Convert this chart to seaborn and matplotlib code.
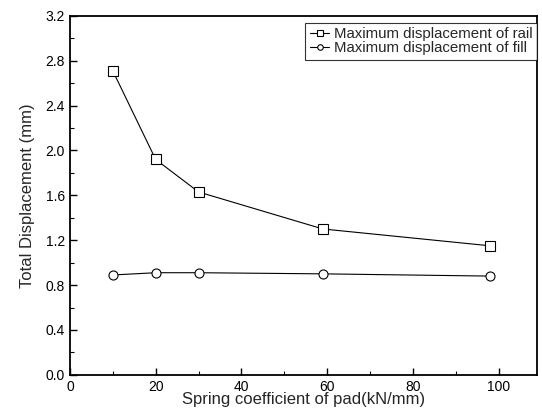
import numpy as np
import pandas as pd
import matplotlib
matplotlib.use("Agg")
import matplotlib.pyplot as plt
import seaborn as sns
from matplotlib.ticker import MultipleLocator

spring = [10, 20, 30, 59, 98]
rail = [2.71, 1.92, 1.63, 1.30, 1.15]
fill = [0.89, 0.91, 0.91, 0.90, 0.88]
series_names = ["Maximum displacement of rail", "Maximum displacement of fill"]

df = pd.DataFrame({
    "x": spring * 2,
    "y": rail + fill,
    "series": [series_names[0]] * len(spring) + [series_names[1]] * len(spring),
})

sns.set_theme(style="ticks")
plt.rcParams["font.family"] = ["Liberation Sans", "DejaVu Sans"]

fig = plt.figure(figsize=(5.42, 4.16), dpi=100)
ax = fig.add_axes([0.129, 0.099, 0.862, 0.863])

sns.lineplot(data=df, x="x", y="y", hue="series", style="series",
             palette=["black", "black"], markers={series_names[0]: "s", series_names[1]: "o"},
             dashes=False, ax=ax, linewidth=0.8, markersize=6.5,
             markerfacecolor="white", markeredgecolor="black", markeredgewidth=0.8)

ax.set_xlim(0, 109)
ax.set_ylim(0, 3.2)
ax.xaxis.set_major_locator(MultipleLocator(20))
ax.xaxis.set_minor_locator(MultipleLocator(10))
ax.yaxis.set_major_locator(MultipleLocator(0.4))
ax.yaxis.set_minor_locator(MultipleLocator(0.2))
ax.yaxis.set_major_formatter(matplotlib.ticker.FormatStrFormatter("%.1f"))
ax.tick_params(which="both", direction="in", top=False, right=False, labelsize=10, colors="black")
ax.tick_params(which="major", length=5, width=1)
ax.tick_params(which="minor", length=3, width=0.8)
for s in ax.spines.values():
    s.set_visible(True)
    s.set_linewidth(1.3)
    s.set_color("black")

ax.set_xlabel("Spring coefficient of pad(kN/mm)", fontsize=12, labelpad=-1)
ax.set_ylabel("Total Displacement (mm)", fontsize=12, labelpad=8)

handles, labels = ax.get_legend_handles_labels()
for h in handles:
    h.set_markersize(4)
leg = ax.legend(handles, labels, loc="upper right", frameon=True, fancybox=False,
                edgecolor="black", fontsize=10.8, handlelength=1.3, borderpad=0.3,
                labelspacing=0.0, handletextpad=0.3, borderaxespad=0,
                bbox_to_anchor=(1.0, 0.98))
leg.get_frame().set_linewidth(0.8)

fig.savefig("out.png", dpi=100)
